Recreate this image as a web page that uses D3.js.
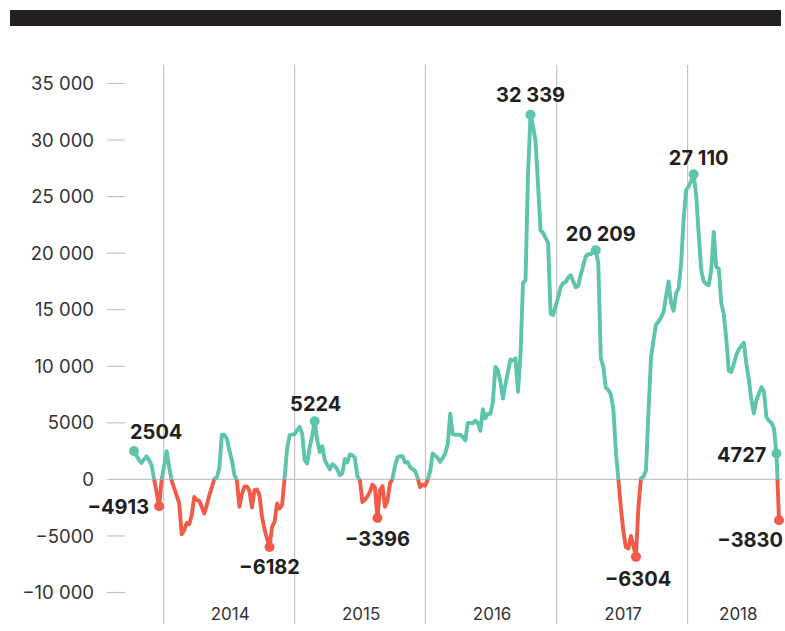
<!DOCTYPE html>
<meta charset="utf-8">
<style>
  body { margin: 0; background: #fff; }
  svg { display: block; font-family: Inter, "Noto Sans", sans-serif; }
</style>
<div id="chart"></div>
<script src="https://cdn.jsdelivr.net/npm/d3@7"></script>
<script>
// weekly series, week number counted from 10 Oct 2013
var startDate = new Date(2013, 9, 10);
var weeks = [
  0, 2, 3, 5, 6, 7, 10, 11, 13, 14, 15, 18, 19, 20, 21, 22, 23, 24, 25, 26, 27, 28, 29, 30,
  31, 32, 33, 34, 35, 36, 37, 38, 39, 40, 41, 42, 43, 44, 45, 46, 47, 48, 49, 50, 51, 52, 53, 54,
  55, 56, 57, 58, 59, 60, 61, 62, 63, 64, 65, 66, 67, 68, 69, 70, 71, 72, 73, 74, 75, 76, 77, 78,
  79, 80, 81, 82, 83, 84, 85, 86, 87, 88, 89, 90, 91, 92, 93, 94, 95, 96, 97, 98, 99, 100, 101, 102,
  103, 104, 105, 106, 107, 108, 109, 110, 111, 112, 113, 114, 115, 116, 117, 118, 119, 120, 121, 122,
  123, 124, 125, 126, 127, 128, 129, 130, 131, 132, 133, 134, 135, 136, 137, 138, 139, 140, 141, 142,
  143, 144, 145, 146, 147, 148, 149, 150, 151, 152, 153, 154, 155, 156, 157, 158, 159, 160, 161, 162,
  163, 164, 165, 166, 167, 168, 169, 170, 171, 172, 173, 174, 175, 176, 177, 178, 179, 180, 181, 182,
  183, 184, 185, 186, 187, 188, 189, 190, 191, 192, 193, 194, 195, 196, 197, 198, 199, 200, 201, 202,
  203, 204, 205, 206, 207, 208, 209, 210, 211, 212, 213, 214, 215, 216, 217, 218, 219, 220, 221, 222,
  223, 224, 225, 226, 227, 228, 229, 230, 231, 232, 233, 234, 235, 236, 237, 238, 239, 240, 241, 242,
  243, 244, 245, 246, 247, 248, 249, 250, 251, 252, 253, 254, 255, 256, 257
];
var values = [
  2504, 1700, 1460, 2050, 1700, 1260, -2370, -50, 2500, 1100, -100, -2100, -4840, -4490, -3850, -3960, -3160, -1550, -1840, -1900, -2430, -3010, -2280, -1400,
  -700, 50, 150, 1000, 3950, 3950, 3600, 2550, 1700, 400, -100, -2430, -1300, -650, -620, -1010, -2480, -950, -890, -1400, -3300, -4400, -5220, -5970,
  -4200, -3760, -2130, -2570, -2280, 100, 2730, 3900, 3950, 4000, 4350, 4640, 4060, 1700, 1400, 2870, 3800, 5140, 3470, 2430, 2930, 1700, 1300, 880,
  1340, 1200, 880, 370, 520, 1800, 1500, 2200, 2150, 1900, 300, -50, -2000, -1800, -1500, -1100, -450, -700, -3420, -950, -600, -2430, -1840, -360,
  100, 1200, 1950, 2050, 2050, 1500, 1550, 1100, 900, 750, 150, -700, -450, -550, -50, 730, 2290, 2100, 1900, 1550,
  1900, 2280, 3100, 5800, 4000, 3950, 3950, 3950, 3740, 3450, 5000, 5000, 4950, 5200, 5000, 4290, 6200, 5400, 5800, 5800,
  6850, 9950, 9650, 8600, 7150, 8400, 9500, 10600, 10500, 10700, 7740, 11000, 17400, 17600, 27000, 32230, 31200, 29900, 26000, 22000,
  21800, 21350, 20900, 14650, 14530, 15300, 16100, 17000, 17350, 17450, 17850, 18050, 17500, 17000, 17100, 18100, 18900, 19700, 19900, 19900,
  20200, 20260, 19090, 10700, 9950, 8100, 7900, 7500, 6200, 2500, 0, -2500, -4600, -6000, -6110, -5000, -5850, -6850, -2400, 100,
  250, 810, 6000, 10800, 12300, 13700, 13950, 14300, 14800, 16200, 17500, 15600, 14900, 16450, 16900, 19100, 23000, 25600, 25900, 26400,
  26980, 25100, 21700, 18500, 17500, 17280, 17170, 18500, 21880, 18750, 18650, 15600, 14600, 12400, 9600, 9500, 10200, 11000, 11500, 11800,
  12070, 10200, 8800, 7000, 5830, 7000, 7600, 8150, 7800, 5500, 5200, 5000, 4500, 2290, -3610
];

// highlighted points and their labels
var markWeeks = [0, 10, 54, 72, 97, 158, 184, 200, 223, 256, 257];
var markLabels = ["2504", "\u22124913", "\u22126182", "5224", "\u22123396", "32 339", "20 209", "\u22126304", "27 110", "4727", "\u22123830"];

var yTicks = [35000, 30000, 25000, 20000, 15000, 10000, 5000, 0, -5000, -10000];
var years = [2014, 2015, 2016, 2017, 2018];

var W = 785, H = 631;
var teal = "#5ec4ab", red = "#f15b4a", ink = "#231f20";

var data = weeks.map(function(w, i) {
  return { date: d3.timeDay.offset(startDate, w * 7), value: values[i], week: w };
});
var lastDate = data[data.length - 1].date;

var x = d3.scaleTime().domain([startDate, lastDate]).range([134, 779]);
var y = d3.scaleLinear().domain([-10000, 35000]).range([592.5, 83.5]);

var svg = d3.select("#chart").append("svg")
  .attr("width", W).attr("height", H);

// top bar
svg.append("rect")
  .attr("x", 10).attr("y", 10).attr("width", 771).attr("height", 16)
  .attr("fill", ink);

// year separators
var yearStart = function(yr) { return new Date(yr, 0, 1); };
svg.selectAll(".yline").data(years).enter().append("line")
  .attr("x1", function(d) { return x(yearStart(d)); })
  .attr("x2", function(d) { return x(yearStart(d)); })
  .attr("y1", 65).attr("y2", 624)
  .attr("stroke", "#c4c4c4").attr("stroke-width", 1.2);

svg.selectAll(".ylab").data(years).enter().append("text")
  .attr("x", function(d) {
    var a = x(yearStart(d));
    var b = d < 2018 ? x(yearStart(d + 1)) : x(lastDate) + 8;
    return (a + b) / 2 + 1;
  })
  .attr("y", 620)
  .attr("text-anchor", "middle")
  .attr("font-size", 17)
  .attr("fill", "#333")
  .text(function(d) { return d; });

// y axis ticks
var fmt = function(v) {
  var s = d3.format(",")(v);
  return Math.abs(v) >= 10000 ? s.replace(/,/g, " ") : s.replace(/,/g, "");
};
svg.selectAll(".tick").data(yTicks).enter().append("line")
  .attr("x1", 107)
  .attr("x2", function(d) { return d === 0 ? 782 : 125; })
  .attr("y1", function(d) { return y(d); })
  .attr("y2", function(d) { return y(d); })
  .attr("stroke", "#c4c4c4").attr("stroke-width", 1.2);

svg.selectAll(".tlab").data(yTicks).enter().append("text")
  .attr("x", 94)
  .attr("y", function(d) { return y(d); })
  .attr("dy", "0.36em")
  .attr("text-anchor", "end")
  .attr("font-size", 18.5)
  .attr("fill", "#333")
  .text(fmt);

// line split at zero: teal above, red below
var defs = svg.append("defs");
defs.append("clipPath").attr("id", "above").append("rect")
  .attr("x", 0).attr("y", 0).attr("width", W).attr("height", y(0));
defs.append("clipPath").attr("id", "below").append("rect")
  .attr("x", 0).attr("y", y(0)).attr("width", W).attr("height", H - y(0));

var line = d3.line()
  .x(function(d) { return x(d.date); })
  .y(function(d) { return y(d.value); });

[["above", teal], ["below", red]].forEach(function(p) {
  svg.append("path")
    .datum(data)
    .attr("clip-path", "url(#" + p[0] + ")")
    .attr("fill", "none")
    .attr("stroke", p[1])
    .attr("stroke-width", 3.9)
    .attr("stroke-linejoin", "round")
    .attr("d", line);
});

// marked points
var marks = markWeeks.map(function(w, i) {
  var d = data.find(function(e) { return e.week === w; });
  return { date: d.date, value: d.value, label: markLabels[i] };
});

svg.selectAll(".dot").data(marks).enter().append("circle")
  .attr("cx", function(d) { return x(d.date); })
  .attr("cy", function(d) { return y(d.value); })
  .attr("r", 5)
  .attr("fill", function(d) { return d.value < 0 ? red : teal; });

// label placement: [anchor, dx, dy]
var place = [
  ["start", -4, -12], ["end", -10, 8], ["middle", 0, 27], ["middle", 1, -10],
  ["middle", 0, 28], ["middle", 0, -13], ["middle", 5, -9], ["middle", 2, 29],
  ["middle", 5, -9], ["end", -10, 9], ["end", 4, 27]
];

svg.selectAll(".mlab").data(marks).enter().append("text")
  .attr("x", function(d, i) { return x(d.date) + place[i][1]; })
  .attr("y", function(d, i) { return y(d.value) + place[i][2]; })
  .attr("text-anchor", function(d, i) { return place[i][0]; })
  .attr("font-size", 20)
  .attr("font-weight", 700)
  .attr("fill", ink)
  .text(function(d) { return d.label; });
</script>
